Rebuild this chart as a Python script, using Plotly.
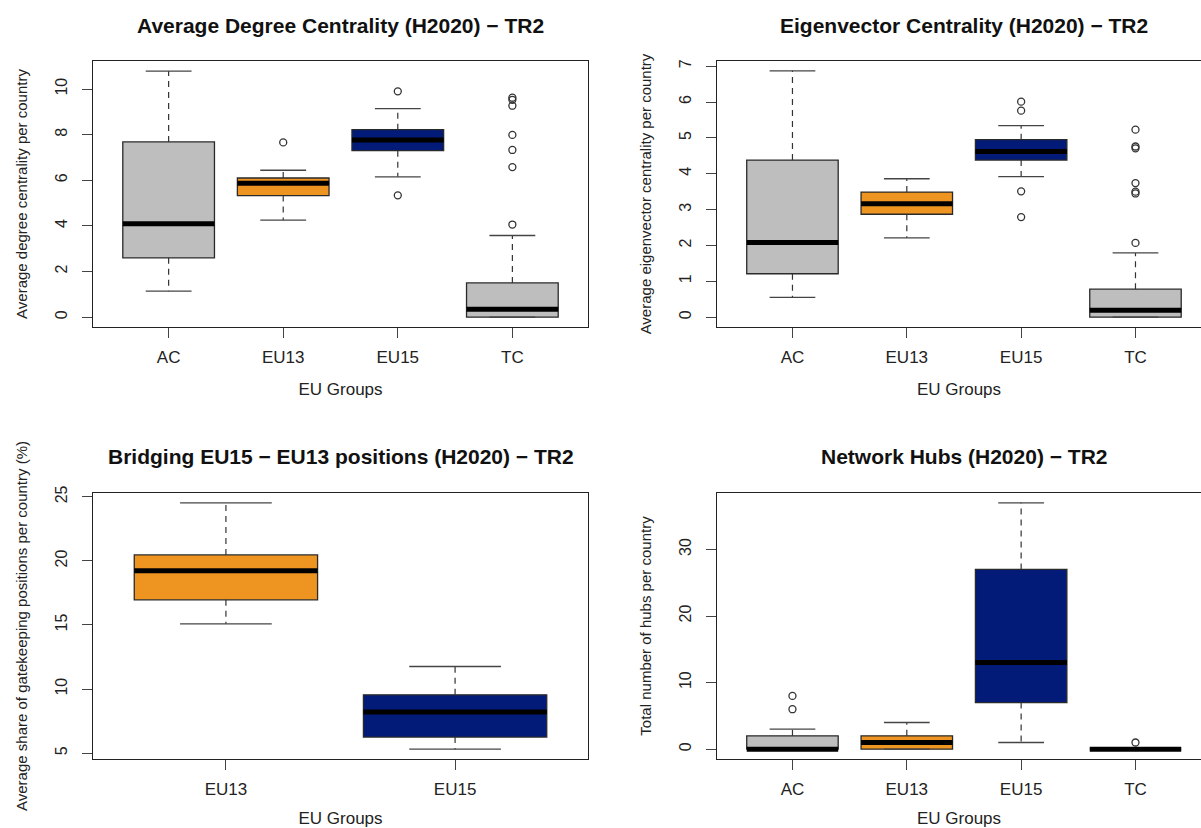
import plotly.graph_objects as go

# ---------------- data ----------------
groups4 = ["AC", "EU13", "EU15", "TC"]
groups2 = ["EU13", "EU15"]

# Average degree centrality
deg_lower = [1.14, 4.25, 6.15, 0.00]
deg_q1 = [2.60, 5.33, 7.30, 0.00]
deg_med = [4.10, 5.87, 7.77, 0.35]
deg_q3 = [7.68, 6.10, 8.22, 1.50]
deg_upper = [10.79, 6.44, 9.14, 3.58]
deg_out = [[], [7.66], [9.90, 5.34], [9.62, 9.53, 9.27, 7.99, 7.33, 6.58, 4.06]]

# Eigenvector centrality
eig_lower = [0.55, 2.21, 3.92, 0.00]
eig_q1 = [1.21, 2.87, 4.38, 0.00]
eig_med = [2.08, 3.16, 4.62, 0.19]
eig_q3 = [4.38, 3.49, 4.95, 0.78]
eig_upper = [6.87, 3.86, 5.34, 1.79]
eig_out = [[], [], [6.01, 5.76, 3.51, 2.79], [5.23, 4.76, 4.71, 3.74, 3.50, 3.45, 2.07]]

# Bridging EU15 - EU13 positions
br_lower = [15.09, 5.31]
br_q1 = [16.96, 6.25]
br_med = [19.23, 8.20]
br_q3 = [20.47, 9.55]
br_upper = [24.53, 11.76]
br_out = [[], []]

# Network hubs
hub_lower = [0, 0, 1, 0]
hub_q1 = [0, 0, 7, 0]
hub_med = [0, 1, 13, 0]
hub_q3 = [2, 2, 27, 0]
hub_upper = [3, 4, 37, 0]
hub_out = [[8, 6], [], [], [1]]

# ---------------- style ----------------
GRAY = "#BEBEBE"
ORANGE = "#EE9420"
NAVY = "#021A78"
col_map = {"AC": GRAY, "EU13": ORANGE, "EU15": NAVY, "TC": GRAY}
BORDER = "#2a2a2a"
FONT = "Liberation Sans, Arial, sans-serif"
W, H = 1201, 828

fig = go.Figure()


def add_panel(ax, groups, lower, q1, med, q3, upper, outs):
    xa, ya = "x" + ax, "y" + ax
    pos = list(range(1, len(groups) + 1))
    for i, g in enumerate(groups):
        fig.add_trace(go.Box(
            x=[pos[i]], q1=[q1[i]], median=[med[i]], q3=[q3[i]],
            lowerfence=[q1[i]], upperfence=[q3[i]], width=0.8,
            fillcolor=col_map[g], line=dict(color=BORDER, width=1.3),
            whiskerwidth=0, boxpoints=False, showlegend=False,
            hoverinfo="skip", xaxis=xa, yaxis=ya))
    wx, wy, sx, sy, mx, my, ox, oy = [], [], [], [], [], [], [], []
    for i in range(len(groups)):
        p = pos[i]
        wx += [p, p, None, p, p, None]
        wy += [q3[i], upper[i], None, q1[i], lower[i], None]
        sx += [p - 0.2, p + 0.2, None, p - 0.2, p + 0.2, None]
        sy += [upper[i], upper[i], None, lower[i], lower[i], None]
        mx += [p - 0.4, p + 0.4, None]
        my += [med[i], med[i], None]
        for v in outs[i]:
            ox.append(p)
            oy.append(v)
    fig.add_trace(go.Scatter(x=wx, y=wy, mode="lines",
                             line=dict(color="#333333", width=1.2, dash="6px,5px"),
                             showlegend=False, hoverinfo="skip", xaxis=xa, yaxis=ya))
    fig.add_trace(go.Scatter(x=sx, y=sy, mode="lines",
                             line=dict(color="#444444", width=1.3),
                             showlegend=False, hoverinfo="skip", xaxis=xa, yaxis=ya))
    fig.add_trace(go.Scatter(x=mx, y=my, mode="lines",
                             line=dict(color="black", width=5),
                             showlegend=False, hoverinfo="skip", xaxis=xa, yaxis=ya))
    if ox:
        fig.add_trace(go.Scatter(x=ox, y=oy, mode="markers",
                                 marker=dict(symbol="circle-open", size=7,
                                             color="#333333", line=dict(width=1.3)),
                                 showlegend=False, hoverinfo="skip", xaxis=xa, yaxis=ya))


add_panel("", groups4, deg_lower, deg_q1, deg_med, deg_q3, deg_upper, deg_out)
add_panel("2", groups4, eig_lower, eig_q1, eig_med, eig_q3, eig_upper, eig_out)
add_panel("3", groups2, br_lower, br_q1, br_med, br_q3, br_upper, br_out)
add_panel("4", groups4, hub_lower, hub_q1, hub_med, hub_q3, hub_upper, hub_out)

# ---------------- layout ----------------
def px_x(p):
    return p / W


def px_y(p):
    return 1 - p / H


dom_left = [px_x(93), px_x(588)]
dom_right = [px_x(717), 1.0]
dom_top = [px_y(327), px_y(61)]
dom_bot = [px_y(759), px_y(493)]

tickfont = dict(family=FONT, size=17, color="#222222")
titlefont = dict(family=FONT, size=17, color="#222222")


def xaxis(dom, anchor, groups, rng):
    return dict(domain=dom, anchor=anchor, range=rng, tickmode="array",
                tickvals=list(range(1, len(groups) + 1)), ticktext=groups,
                showline=True, mirror=True, linecolor="#222222", linewidth=1.3,
                ticks="outside", ticklen=10, tickcolor="#444444", tickwidth=1.3,
                ticklabelstandoff=4, showgrid=False, zeroline=False,
                tickfont=tickfont, automargin=False,
                title=dict(text="EU Groups", font=titlefont, standoff=17))


def yaxis(dom, anchor, rng, tickvals, title, mirror):
    return dict(domain=dom, anchor=anchor, range=rng, tickmode="array",
                tickvals=tickvals, showline=True, mirror=mirror,
                linecolor="#222222", linewidth=1.3, ticks="outside", ticklen=10,
                tickcolor="#444444", tickwidth=1.3, tickangle=-90,
                ticklabelstandoff=8, showgrid=False, zeroline=False,
                tickfont=dict(family=FONT, size=16, color="#222222"), automargin=False,
                title=dict(text=title, font=dict(family=FONT, size=15, color="#222222"),
                           standoff=22))


fig.update_layout(
    width=W, height=H, margin=dict(l=0, r=0, t=0, b=0),
    template="none", paper_bgcolor="white", plot_bgcolor="white",
    showlegend=False, boxmode="overlay",
    xaxis=xaxis(dom_left, "y", groups4, [0.34, 4.66]),
    yaxis=yaxis(dom_top, "x", [-0.432, 11.23], [0, 2, 4, 6, 8, 10],
                "Average degree centrality per country", True),
    xaxis2=xaxis(dom_right, "y2", groups4, [0.34, 4.573]),
    yaxis2=yaxis(dom_top, "x2", [-0.275, 7.145], [0, 1, 2, 3, 4, 5, 6, 7],
                 "Average eigenvector centrality per country", False),
    xaxis3=xaxis(dom_left, "y3", groups2, [0.42, 2.58]),
    yaxis3=yaxis(dom_bot, "x3", [4.54, 25.30], [5, 10, 15, 20, 25],
                 "Average share of gatekeeping positions per country (%)", True),
    xaxis4=xaxis(dom_right, "y4", groups4, [0.34, 4.573]),
    yaxis4=yaxis(dom_bot, "x4", [-1.48, 38.48], [0, 10, 20, 30],
                 "Total number of hubs per country", False),
)

titles = [
    ("Average Degree Centrality (H2020) − TR2", 340.5, 25),
    ("Eigenvector Centrality (H2020) − TR2", 964, 25),
    ("Bridging EU15 − EU13 positions (H2020) − TR2", 340.5, 456),
    ("Network Hubs (H2020) − TR2", 964, 456),
]
for txt, cx, cy in titles:
    fig.add_annotation(text="<b>" + txt + "</b>", xref="paper", yref="paper",
                       x=px_x(cx), y=px_y(cy), xanchor="center", yanchor="middle",
                       showarrow=False, font=dict(family=FONT, size=21, color="#111111"))

fig.write_html("out.html", config={"displayModeBar": False},
               post_script="document.body.style.margin='0';document.body.style.overflow='hidden';")
